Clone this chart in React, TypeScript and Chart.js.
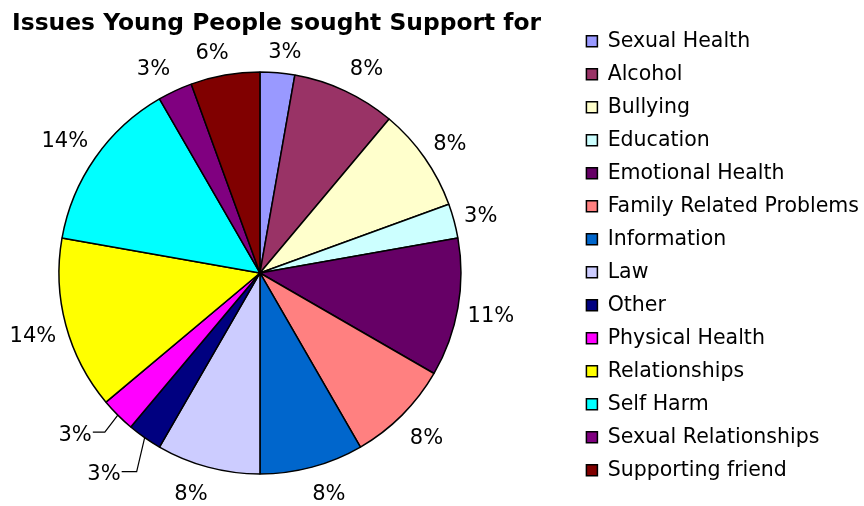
import React, { useEffect, useRef } from 'react';
import { Chart, registerables } from 'chart.js';

Chart.register(...registerables);

const TITLE = 'Issues Young People sought Support for';
const categories = [
  'Sexual Health',
  'Alcohol',
  'Bullying',
  'Education',
  'Emotional Health',
  'Family Related Problems',
  'Information',
  'Law',
  'Other',
  'Physical Health',
  'Relationships',
  'Self Harm',
  'Sexual Relationships',
  'Supporting friend',
];
// number of young people per issue (36 in total -> 3%, 8%, 11%, 14%, 6% ...)
const counts = [1, 3, 3, 1, 4, 3, 3, 3, 1, 1, 5, 5, 1, 2];
const colors = [
  '#9999FF', '#993366', '#FFFFCC', '#CCFFFF', '#660066', '#FF8080', '#0066CC',
  '#CCCCFF', '#000080', '#FF00FF', '#FFFF00', '#00FFFF', '#800080', '#800000',
];

const FONT = '"DejaVu Sans", Verdana, sans-serif';
const CANVAS_W = 869;
const CANVAS_H = 506;
const PIE_SHIFT = -33;
const TEXT_DY = 3;
// slices whose label is pulled out with a leader line (offsets of elbow from slice edge)
const leaderLabels: Record<number, { dx: number; dy: number; len: number }> = {
  8: { dx: -8, dy: 34, len: 15 },
  9: { dx: -13, dy: 17, len: 12 },
};

const shiftPie = {
  id: 'shiftPie',
  afterLayout(chart: any) {
    const a = chart.chartArea;
    a.left += PIE_SHIFT;
    a.right += PIE_SHIFT;
  },
};

const pctLabels = {
  id: 'pctLabels',
  afterDatasetsDraw(chart: any) {
    const ctx = chart.ctx;
    const meta = chart.getDatasetMeta(0);
    const data = chart.data.datasets[0].data as number[];
    const total = data.reduce((a, b) => a + b, 0);
    ctx.save();
    ctx.font = '21px ' + FONT;
    ctx.fillStyle = '#000';
    ctx.strokeStyle = '#000';
    ctx.lineWidth = 1.2;
    ctx.textBaseline = 'middle';
    meta.data.forEach((arc: any, i: number) => {
      const { x, y, startAngle, endAngle, outerRadius } = arc.getProps(
        ['x', 'y', 'startAngle', 'endAngle', 'outerRadius'],
        true
      );
      const mid = (startAngle + endAngle) / 2;
      const ux = Math.cos(mid);
      const uy = Math.sin(mid);
      const ax = Math.abs(ux);
      const text = Math.round((data[i] / total) * 100) + '%';
      const w = ctx.measureText(text).width;
      const lead = leaderLabels[i];
      if (lead) {
        const ex = x + ux * outerRadius;
        const ey = y + uy * outerRadius;
        const bx = ex + lead.dx;
        const by = ey + lead.dy;
        ctx.beginPath();
        ctx.moveTo(ex, ey);
        ctx.lineTo(bx, by);
        ctx.lineTo(bx - lead.len, by);
        ctx.stroke();
        ctx.textAlign = 'right';
        ctx.fillText(text, bx - lead.len - 1, by + TEXT_DY);
      } else {
        const he = (ax * w) / 2 + Math.abs(uy) * 8.5;
        const d = outerRadius + 14 - 5 * ax + he;
        const nudge = Math.sign(ux) * (w / 2) * 6.75 * ax * (1 - ax) * (1 - ax) * 0.65;
        ctx.textAlign = 'center';
        ctx.fillText(text, x + ux * d + nudge, y + uy * d + TEXT_DY);
      }
    });
    ctx.restore();
  },
};

export default function App() {
  const ref = useRef<HTMLCanvasElement | null>(null);
  useEffect(() => {
    if (!ref.current) return;
    Chart.defaults.font.family = FONT;
    const chart = new Chart(ref.current, {
      type: 'pie',
      data: {
        labels: categories,
        datasets: [
          {
            data: counts,
            backgroundColor: colors,
            borderColor: '#000',
            borderWidth: 1.5,
            radius: 201,
            clip: false,
          } as any,
        ],
      },
      options: {
        responsive: false,
        animation: false,
        events: [],
        layout: { padding: { left: 12, top: 0, right: 0, bottom: 13 } },
        plugins: {
          title: {
            display: true,
            text: TITLE,
            align: 'start',
            fullSize: true,
            color: '#000',
            font: { family: FONT, size: 23.4, weight: 'bold' },
            padding: { top: 10, bottom: 14.9 },
          },
          legend: {
            display: true,
            position: 'right',
            align: 'end',
            fullSize: true,
            labels: {
              color: '#000',
              font: { family: FONT, size: 20.5 },
              boxWidth: 11,
              boxHeight: 11,
              padding: 12.5,
            },
          },
          tooltip: { enabled: false },
        },
      },
      plugins: [shiftPie, pctLabels],
    });
    return () => chart.destroy();
  }, []);
  return (
    <div
      style={{
        position: 'fixed',
        left: 0,
        top: 0,
        width: 864,
        height: 506,
        overflow: 'hidden',
        background: '#fff',
      }}
    >
      <canvas
        ref={ref}
        width={CANVAS_W}
        height={CANVAS_H}
        style={{ width: CANVAS_W, height: CANVAS_H, display: 'block' }}
      />
    </div>
  );
}
